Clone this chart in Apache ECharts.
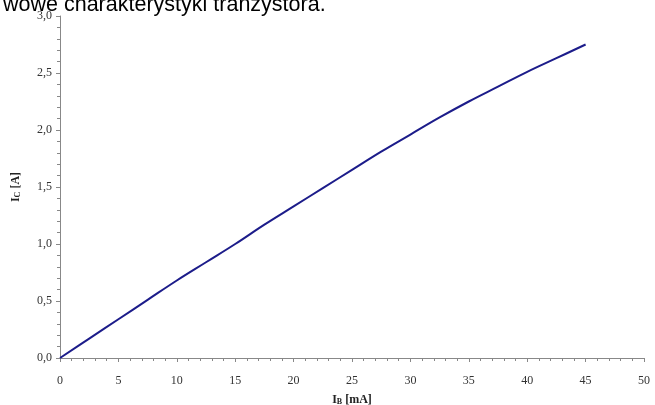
<!DOCTYPE html>
<html>
<head>
<meta charset="utf-8">
<script src="https://cdn.jsdelivr.net/npm/echarts@6/dist/echarts.min.js"></script>
<style>
html,body{margin:0;padding:0;background:#fff;}
#c{width:655px;height:405px;}
</style>
</head>
<body>
<div id="c"></div>
<script>
const captionText = "wowe charakterystyki tranzystora.";
const ibValues = [0, 2.5, 5, 7.5, 10, 12.5, 15, 17.5, 20, 22.5, 25, 27.5, 30, 32.5, 35, 37.5, 40, 42.5, 45];
const icValues = [0, 0.17, 0.34, 0.51, 0.68, 0.84, 1.0, 1.17, 1.33, 1.49, 1.65, 1.81, 1.96, 2.11, 2.25, 2.38, 2.51, 2.63, 2.75];
const xTicks = {min: 0, max: 50, interval: 5};
const yTicks = {min: 0, max: 3, interval: 0.5};

const chart = echarts.init(document.getElementById('c'), null, {renderer: 'canvas'});
const serif = 'Liberation Serif, Times New Roman, serif';
chart.setOption({
  animation: false,
  backgroundColor: '#ffffff',
  title: {
    text: captionText,
    left: -2,
    top: -11,
    textStyle: {fontFamily: 'Liberation Sans, Arial, sans-serif', fontSize: 21.5, fontWeight: 'normal', color: '#000'}
  },
  grid: {left: 60, right: 11, top: 16, bottom: 47, containLabel: false, outerBoundsMode: 'none'},
  xAxis: {
    type: 'value',
    min: xTicks.min, max: xTicks.max, interval: xTicks.interval,
    name: '{b|I}{s|B}{b| [mA]}',
    nameLocation: 'middle',
    nameGap: 35,
    nameTextStyle: {
      rich: {
        b: {fontFamily: serif, fontSize: 12, fontWeight: 'bold', color: '#222'},
        s: {fontFamily: serif, fontSize: 8, fontWeight: 'bold', color: '#222', verticalAlign: 'bottom', padding: [5,0,0,0]}
      }
    },
    axisLine: {lineStyle: {color: '#888', width: 1}},
    axisTick: {show: true, length: 4, lineStyle: {color: '#888'}},
    minorTick: {show: true, splitNumber: 5, length: 3, lineStyle: {color: '#888'}},
    splitLine: {show: false},
    axisLabel: {fontFamily: serif, fontSize: 12, color: '#333', margin: 17,
      formatter: v => String(v)}
  },
  yAxis: {
    type: 'value',
    min: yTicks.min, max: yTicks.max, interval: yTicks.interval,
    name: '{b|I}{s|C}{b| [A]}',
    nameLocation: 'middle',
    nameGap: 38,
    nameRotate: 90,
    nameTextStyle: {
      rich: {
        b: {fontFamily: serif, fontSize: 12, fontWeight: 'bold', color: '#222'},
        s: {fontFamily: serif, fontSize: 8, fontWeight: 'bold', color: '#222', verticalAlign: 'bottom', padding: [5,0,0,0]}
      }
    },
    axisLine: {show: true, lineStyle: {color: '#888', width: 1}},
    axisTick: {show: true, length: 4, lineStyle: {color: '#888'}},
    minorTick: {show: true, splitNumber: 5, length: 3, lineStyle: {color: '#888'}},
    splitLine: {show: false},
    axisLabel: {fontFamily: serif, fontSize: 12, color: '#333', margin: 8,
      formatter: v => v.toFixed(1).replace('.', ',')}
  },
  series: [{
    type: 'line',
    data: ibValues.map((x, i) => [x, icValues[i]]),
    smooth: 0.4,
    symbol: 'none',
    lineStyle: {color: '#1c1c8a', width: 2}
  }]
});
</script>
</body>
</html>
